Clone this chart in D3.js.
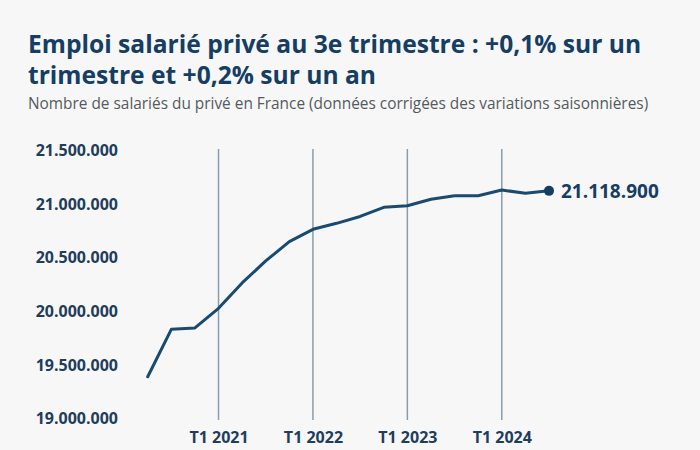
<!DOCTYPE html>
<html><head><meta charset="utf-8">
<script src="https://cdn.jsdelivr.net/npm/d3@7"></script>
<style>
html,body{margin:0;padding:0;background:#f7f7f7;}
svg{display:block;}
</style></head>
<body>
<script>
const quarters = ["T2 2020","T3 2020","T4 2020","T1 2021","T2 2021","T3 2021","T4 2021","T1 2022","T2 2022","T3 2022","T4 2022","T1 2023","T2 2023","T3 2023","T4 2023","T1 2024","T2 2024","T3 2024"];
const employment = [19385000,19827000,19840000,20023000,20260000,20465000,20645000,20760000,20816000,20880000,20965000,20980000,21040000,21074000,21074000,21127000,21096000,21118900];
const yTicks = [19000000,19500000,20000000,20500000,21000000,21500000];
const xTickLabels = ["T1 2021","T1 2022","T1 2023","T1 2024"];
const title1 = "Emploi salarié privé au 3e trimestre : +0,1% sur un";
const title2 = "trimestre et +0,2% sur un an";
const subtitle = "Nombre de salariés du privé en France (données corrigées des variations saisonnières)";

const W = 700, H = 450;
const svg = d3.select("body").append("svg").attr("width", W).attr("height", H);
svg.append("rect").attr("width", W).attr("height", H).attr("fill", "#f7f7f7");

const navy = "#163d63";
const labelFont = "'Open Sans', 'Noto Sans', sans-serif";
const fmt = d3.formatLocale({decimal: ",", thousands: ".", grouping: [3], currency: ["", "€"]}).format(",d");

svg.append("text").attr("x", 28).attr("y", 53).text(title1)
  .attr("font-family", labelFont).attr("font-weight", 700)
  .attr("font-size", 24.6).attr("fill", navy);
svg.append("text").attr("x", 28).attr("y", 84).text(title2)
  .attr("font-family", labelFont).attr("font-weight", 700)
  .attr("font-size", 24.6).attr("fill", navy);
svg.append("text").attr("x", 28).attr("y", 109).text(subtitle)
  .attr("font-family", labelFont).attr("font-weight", 400)
  .attr("font-size", 15.4).attr("fill", "#555a60");

const x = d3.scaleLinear().domain([0, quarters.length - 1]).range([147.7, 549]);
const y = d3.scaleLinear().domain([19000000, 21500000]).range([418, 150]);

// y axis labels
const yAxis = d3.axisLeft(y).tickValues(yTicks).tickFormat(fmt).tickSize(0).tickPadding(0);
const gy = svg.append("g").attr("transform", "translate(118,0)").call(yAxis);
gy.select(".domain").remove();
gy.selectAll("text").attr("font-family", labelFont).attr("font-weight", 700)
  .attr("font-size", 16).attr("fill", "#1f3d5c").attr("dy", "0.35em");

// vertical year lines
const t1Idx = quarters.map((q, i) => q.startsWith("T1") ? i : -1).filter(i => i >= 0);
svg.append("g").selectAll("line").data(t1Idx).join("line")
  .attr("x1", d => x(d)).attr("x2", d => x(d))
  .attr("y1", 149).attr("y2", 420)
  .attr("stroke", "#8a9cad").attr("stroke-width", 1.5);

// x labels
const xAxis = d3.axisBottom(x).tickValues(t1Idx).tickFormat((d, i) => xTickLabels[i]).tickSize(0).tickPadding(0);
const gx = svg.append("g").attr("transform", "translate(0,437)").call(xAxis);
gx.select(".domain").remove();
gx.selectAll("text").attr("font-family", labelFont).attr("font-weight", 700)
  .attr("font-size", 16).attr("fill", "#1f3d5c").attr("dy", "0.35em");

// line
const line = d3.line().x((d, i) => x(i)).y(d => y(d));
svg.append("path").datum(employment).attr("d", line)
  .attr("fill", "none").attr("stroke", "#1b4a70").attr("stroke-width", 3)
  .attr("stroke-linejoin", "round").attr("stroke-linecap", "round");

const last = employment.length - 1;
svg.append("circle").attr("cx", x(last)).attr("cy", y(employment[last])).attr("r", 5).attr("fill", "#163d63");
svg.append("text").attr("x", x(last) + 12).attr("y", y(employment[last])).attr("dy", "0.35em")
  .text(fmt(employment[last]))
  .attr("font-family", labelFont).attr("font-weight", 700)
  .attr("font-size", 19).attr("fill", "#163d63");
</script>
</body></html>
